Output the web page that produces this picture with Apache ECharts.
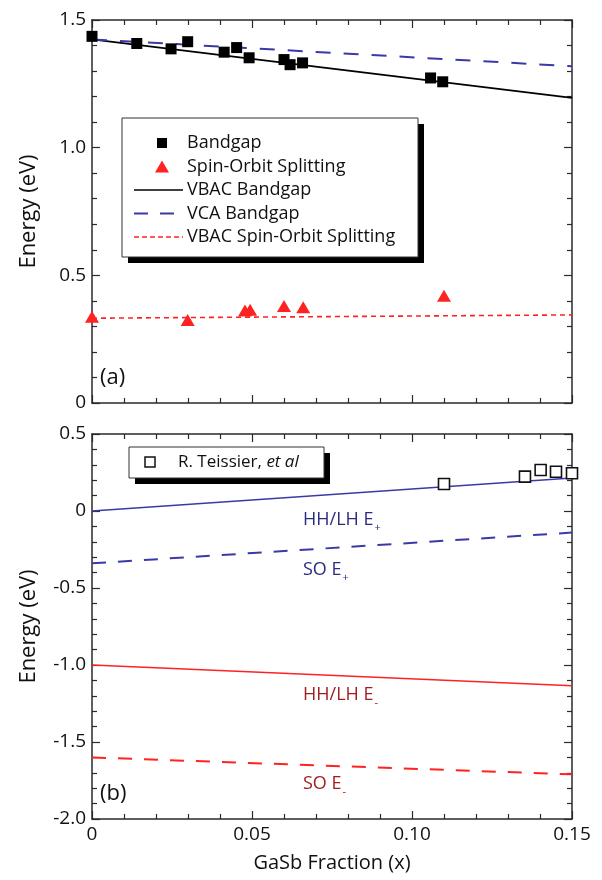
<!DOCTYPE html>
<html>
<head>
<meta charset="utf-8">
<script src="https://cdn.jsdelivr.net/npm/echarts@6/dist/echarts.min.js"></script>
<style>
html,body{margin:0;padding:0;background:#fff;}
#chart{width:602px;height:880px;}
</style>
</head>
<body>
<div id="chart"></div>
<script>
// ---------- DATA ----------
// Panel (a)
const bandgapX = [0, 0.014, 0.0247, 0.0299, 0.0413, 0.0452, 0.0491, 0.060, 0.0619, 0.0658, 0.1058, 0.1096];
const bandgapE = [1.436, 1.408, 1.387, 1.415, 1.374, 1.392, 1.352, 1.345, 1.325, 1.332, 1.273, 1.258];
const soX = [0, 0.0299, 0.0478, 0.0494, 0.060, 0.066, 0.110];
const soE = [0.338, 0.325, 0.362, 0.365, 0.380, 0.375, 0.420];
const lineX = [0, 0.15];
const vbacGap = [1.424, 1.195];
const vcaGap = [1.424, 1.319];
const vbacSO = [0.332, 0.345];
// Panel (b)
const teissierX = [0.110, 0.1353, 0.1402, 0.145, 0.150];
const teissierE = [0.175, 0.223, 0.266, 0.255, 0.245];
const hhPlus = [0.0, 0.214];
const soPlus = [-0.34, -0.14];
const hhMinus = [-1.0, -1.135];
const soMinus = [-1.60, -1.71];
// Ticks
const xTicks = [0, 0.05, 0.10, 0.15];
const yTicksA = [0, 0.5, 1.0, 1.5];
const yTicksB = [-2.0, -1.5, -1.0, -0.5, 0, 0.5];

// ---------- helpers ----------
const zip = (xs, ys) => xs.map((x, i) => [x, ys[i]]);
const FONT = 'Open Sans';
const AX = '#2a2a2a';
const fmtX = v => (v === 0 ? '0' : v.toFixed(2));
const fmtY = v => (Math.abs(v) < 1e-9 ? '0' : v.toFixed(1));

function xAx(gridIndex, pos, showLabel, name) {
  return {
    type: 'value', gridIndex, position: pos,
    min: xTicks[0], max: xTicks[xTicks.length - 1], interval: 0.05,
    name: name || '', nameLocation: 'middle', nameGap: 34,
    nameTextStyle: { fontFamily: FONT, fontSize: 20, color: '#111' },
    axisLine: { show: true, onZero: false, lineStyle: { color: AX, width: 1.5 } },
    axisTick: { show: true, inside: true, length: 8, lineStyle: { color: AX, width: 1.2 } },
    minorTick: { show: true, splitNumber: 5, length: 5, lineStyle: { color: AX, width: 1.2 } },
    axisLabel: { show: showLabel, formatter: fmtX, fontFamily: FONT, fontSize: 19, color: '#111', margin: 6 },
    splitLine: { show: false }, minorSplitLine: { show: false }
  };
}
function yAx(gridIndex, pos, ticks, showLabel, name) {
  return {
    type: 'value', gridIndex, position: pos,
    min: ticks[0], max: ticks[ticks.length - 1], interval: 0.5,
    name: name || '', nameLocation: 'middle', nameGap: 52,
    nameTextStyle: { fontFamily: FONT, fontSize: 22, color: '#111' },
    axisLine: { show: true, onZero: false, lineStyle: { color: AX, width: 1.5 } },
    axisTick: { show: true, inside: true, length: 8, lineStyle: { color: AX, width: 1.2 } },
    minorTick: { show: true, splitNumber: 5, length: 5, lineStyle: { color: AX, width: 1.2 } },
    axisLabel: { show: showLabel, formatter: fmtY, fontFamily: FONT, fontSize: 19, color: '#111', margin: 6 },
    splitLine: { show: false }, minorSplitLine: { show: false }
  };
}

const chart = echarts.init(document.getElementById('chart'), null, { renderer: 'canvas' });

const blue = '#3a3aa6';
const red = '#ff2222';

const option = {
  animation: false,
  backgroundColor: '#fff',
  grid: [
    { left: 92, top: 20, width: 480, height: 383 },
    { left: 92, top: 434, width: 480, height: 385 }
  ],
  xAxis: [
    xAx(0, 'bottom', false),
    xAx(0, 'top', false),
    xAx(1, 'bottom', true, 'GaSb Fraction (x)'),
    xAx(1, 'top', false)
  ],
  yAxis: [
    yAx(0, 'left', yTicksA, true, 'Energy (eV)'),
    yAx(0, 'right', yTicksA, false),
    yAx(1, 'left', yTicksB, true, 'Energy (eV)'),
    yAx(1, 'right', yTicksB, false)
  ],
  series: [
    { name: 'VBAC Bandgap', type: 'line', xAxisIndex: 0, yAxisIndex: 0, data: zip(lineX, vbacGap),
      symbol: 'none', lineStyle: { color: '#000', width: 1.8 }, z: 2 },
    { name: 'VCA Bandgap', type: 'line', xAxisIndex: 0, yAxisIndex: 0, data: zip(lineX, vcaGap),
      symbol: 'none', lineStyle: { color: blue, width: 2, type: [15, 13] }, z: 2 },
    { name: 'VBAC Spin-Orbit Splitting', type: 'line', xAxisIndex: 0, yAxisIndex: 0, data: zip(lineX, vbacSO),
      symbol: 'none', lineStyle: { color: red, width: 1.6, type: [5, 4] }, z: 2 },
    { name: 'Bandgap', type: 'scatter', xAxisIndex: 0, yAxisIndex: 0, data: zip(bandgapX, bandgapE),
      symbol: 'rect', symbolSize: 11, itemStyle: { color: '#000', opacity: 1 }, z: 3 },
    { name: 'Spin-Orbit Splitting', type: 'scatter', xAxisIndex: 0, yAxisIndex: 0, data: zip(soX, soE),
      symbol: 'triangle', symbolSize: [14, 12], itemStyle: { color: red, opacity: 1 }, z: 3 },

    { name: 'HH/LH E+', type: 'line', xAxisIndex: 2, yAxisIndex: 2, data: zip(lineX, hhPlus),
      symbol: 'none', lineStyle: { color: blue, width: 1.6 }, z: 2 },
    { name: 'SO E+', type: 'line', xAxisIndex: 2, yAxisIndex: 2, data: zip(lineX, soPlus),
      symbol: 'none', lineStyle: { color: blue, width: 2, type: [14, 12] }, z: 2 },
    { name: 'HH/LH E-', type: 'line', xAxisIndex: 2, yAxisIndex: 2, data: zip(lineX, hhMinus),
      symbol: 'none', lineStyle: { color: red, width: 1.6 }, z: 2 },
    { name: 'SO E-', type: 'line', xAxisIndex: 2, yAxisIndex: 2, data: zip(lineX, soMinus),
      symbol: 'none', lineStyle: { color: red, width: 2, type: [14, 12] }, z: 2 },
    { name: 'R. Teissier, et al', type: 'scatter', xAxisIndex: 2, yAxisIndex: 2, data: zip(teissierX, teissierE),
      symbol: 'rect', symbolSize: 11, itemStyle: { color: '#fff', borderColor: '#111', borderWidth: 1.6, opacity: 1 }, z: 3 }
  ]
};

// ---------- legends & annotations (graphic) ----------
const legFont = '18px "' + FONT + '"';
const legA = { x: 122, y: 118, w: 296, h: 139 };
const rowsA = [143, 166.5, 190, 213.5, 237];
const legB = { x: 129, y: 447, w: 195, h: 31 };
const navy = '#2b2b80';
const darkRed = '#a01f1f';

const graphics = [
  { type: 'rect', shape: { x: legA.x + 6, y: legA.y + 6, width: legA.w, height: legA.h }, style: { fill: '#000' }, z: 10 },
  { type: 'rect', shape: { x: legA.x, y: legA.y, width: legA.w, height: legA.h }, style: { fill: '#fff', stroke: '#333', lineWidth: 1 }, z: 11 },
  { type: 'rect', shape: { x: 157, y: rowsA[0] - 5, width: 10, height: 10 }, style: { fill: '#000' }, z: 12 },
  { type: 'polygon', shape: { points: [[162, rowsA[1] - 6], [155, rowsA[1] + 6], [169, rowsA[1] + 6]] }, style: { fill: red }, z: 12 },
  { type: 'line', shape: { x1: 134, y1: rowsA[2], x2: 183, y2: rowsA[2] }, style: { stroke: '#000', lineWidth: 1.5 }, z: 12 },
  { type: 'line', shape: { x1: 134, y1: rowsA[3], x2: 183, y2: rowsA[3] }, style: { stroke: blue, lineWidth: 2, lineDash: [14, 12] }, z: 12 },
  { type: 'line', shape: { x1: 134, y1: rowsA[4], x2: 183, y2: rowsA[4] }, style: { stroke: red, lineWidth: 1.5, lineDash: [5, 3] }, z: 12 },
];
['Bandgap', 'Spin-Orbit Splitting', 'VBAC Bandgap', 'VCA Bandgap', 'VBAC Spin-Orbit Splitting'].forEach((t, i) => {
  graphics.push({ type: 'text', x: 187, y: rowsA[i], style: { text: t, font: legFont, fill: '#111', verticalAlign: 'middle', align: 'left' }, z: 12 });
});
graphics.push(
  { type: 'rect', shape: { x: legB.x + 6, y: legB.y + 6, width: legB.w, height: legB.h }, style: { fill: '#000' }, z: 10 },
  { type: 'rect', shape: { x: legB.x, y: legB.y, width: legB.w, height: legB.h }, style: { fill: '#fff', stroke: '#333', lineWidth: 1 }, z: 11 },
  { type: 'rect', shape: { x: 145, y: 457, width: 10, height: 10 }, style: { fill: '#fff', stroke: '#111', lineWidth: 1.5 }, z: 12 },
  { type: 'text', x: 178, y: 462.5, style: {
      text: '{r|R. Teissier, }{i|et al}', verticalAlign: 'middle',
      rich: { r: { fontFamily: FONT, fontSize: 17, fill: '#111' }, i: { fontFamily: FONT, fontSize: 17, fontStyle: 'italic', fill: '#111' } } }, z: 12 }
);
graphics.push(
  { type: 'text', x: 100, y: 378, style: { text: '(a)', font: '22px "' + FONT + '"', fill: '#111', verticalAlign: 'middle' }, z: 12 },
  { type: 'text', x: 100, y: 794, style: { text: '(b)', font: '22px "' + FONT + '"', fill: '#111', verticalAlign: 'middle' }, z: 12 }
);
function ann(x, y, main, sub, color) {
  return { type: 'text', x, y, style: {
    text: '{m|' + main + '}{s|' + sub + '}', verticalAlign: 'middle',
    rich: { m: { fontFamily: FONT, fontSize: 18, fill: color },
            s: { fontFamily: FONT, fontSize: 11, fill: color, padding: [16, 0, 0, 1] } } }, z: 12 };
}
graphics.push(
  ann(303, 520, 'HH/LH E', '+', navy),
  ann(303, 570, 'SO E', '+', navy),
  ann(303, 695, 'HH/LH E', '-', darkRed),
  ann(303, 784, 'SO E', '-', darkRed)
);
option.graphic = graphics;

chart.setOption(option);
</script>
</body>
</html>
